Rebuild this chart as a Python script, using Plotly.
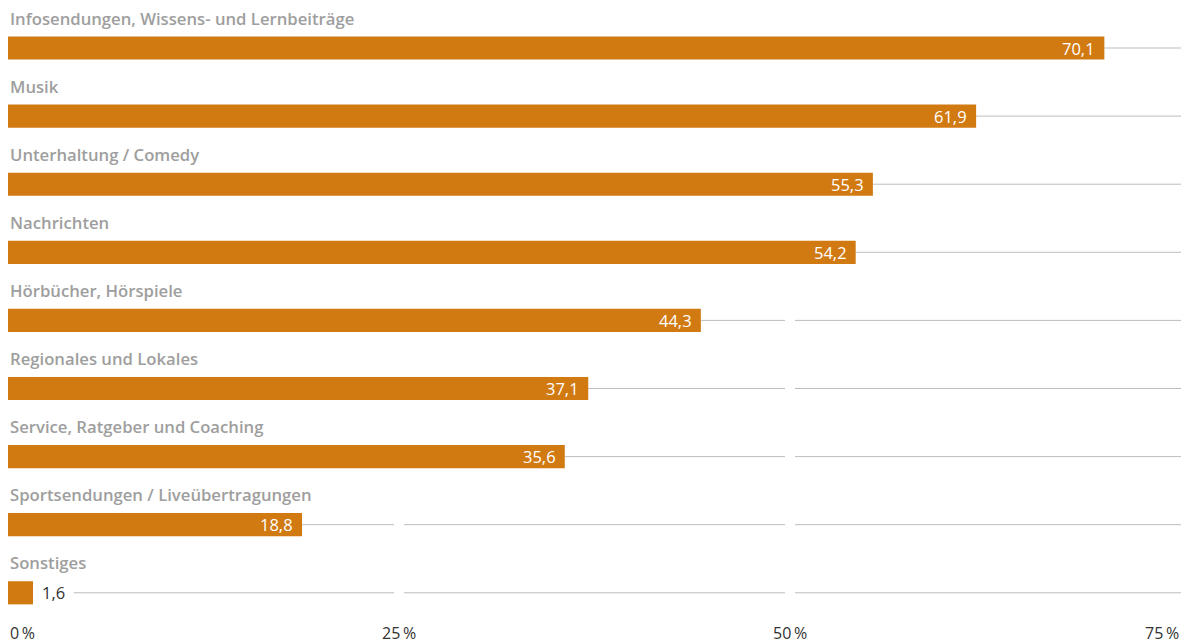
import plotly.graph_objects as go

categories = [
    "Infosendungen, Wissens- und Lernbeiträge",
    "Musik",
    "Unterhaltung / Comedy",
    "Nachrichten",
    "Hörbücher, Hörspiele",
    "Regionales und Lokales",
    "Service, Ratgeber und Coaching",
    "Sportsendungen / Liveübertragungen",
    "Sonstiges",
]
values = [70.1, 61.9, 55.3, 54.2, 44.3, 37.1, 35.6, 18.8, 1.6]
tick_values = [0, 25, 50, 75]
tick_labels = ["0\u2009%", "25\u2009%", "50\u2009%", "75\u2009%"]

BAR = "#D17A12"
GRID = "#BDBDBD"
LABEL = "#9E9E9E"
FONT = "Open Sans"

ys = list(range(len(categories)))
texts = [f"{v:.1f}".replace(".", ",") for v in values]
inside = [v > 5 for v in values]

fig = go.Figure()
fig.add_trace(go.Bar(
    x=values, y=ys, orientation="h", width=0.34,
    marker=dict(color=BAR, line=dict(width=0)),
    hoverinfo="skip",
))

shapes = []
for y, v, ins in zip(ys, values, inside):
    x0 = v if ins else v + 2.6
    shapes.append(dict(type="line", xref="x", yref="y", x0=x0, x1=75, y0=y, y1=y,
                       line=dict(color=GRID, width=1), layer="below"))
for t in tick_values[1:-1]:
    shapes.append(dict(type="line", xref="x", yref="y", x0=t, x1=t, y0=-0.7, y1=8.75,
                       line=dict(color="white", width=10), layer="below"))

annotations = []
for y, c in zip(ys, categories):
    annotations.append(dict(x=0, y=y - 0.44, xref="x", yref="y", text=c, showarrow=False,
                            xanchor="left", yanchor="middle",
                            font=dict(family=FONT, size=16.7, color=LABEL, weight=600)))
for y, v, t, ins in zip(ys, values, texts, inside):
    annotations.append(dict(x=v, y=y, xref="x", yref="y", text=t, showarrow=False,
                            xanchor="right" if ins else "left", xshift=-7 if ins else 7,
                            yanchor="middle",
                            font=dict(family=FONT, size=16.5, color="white" if ins else "#333333")))
anchors = ["left", "center", "center", "right"]
for t, lab, a in zip(tick_values, tick_labels, anchors):
    annotations.append(dict(x=t, y=8.59, xref="x", yref="y", text=lab, showarrow=False,
                            xanchor=a, yanchor="middle",
                            font=dict(family=FONT, size=16, color="#333333")))

fig.update_layout(
    width=1189, height=644,
    margin=dict(l=8, r=8, t=0, b=0),
    paper_bgcolor="white", plot_bgcolor="white",
    showlegend=False,
    shapes=shapes, annotations=annotations,
    xaxis=dict(range=[0, 75], visible=False, fixedrange=True),
    yaxis=dict(range=[8.752, -0.705], visible=False, fixedrange=True),
)
fig.write_html("out.html")
